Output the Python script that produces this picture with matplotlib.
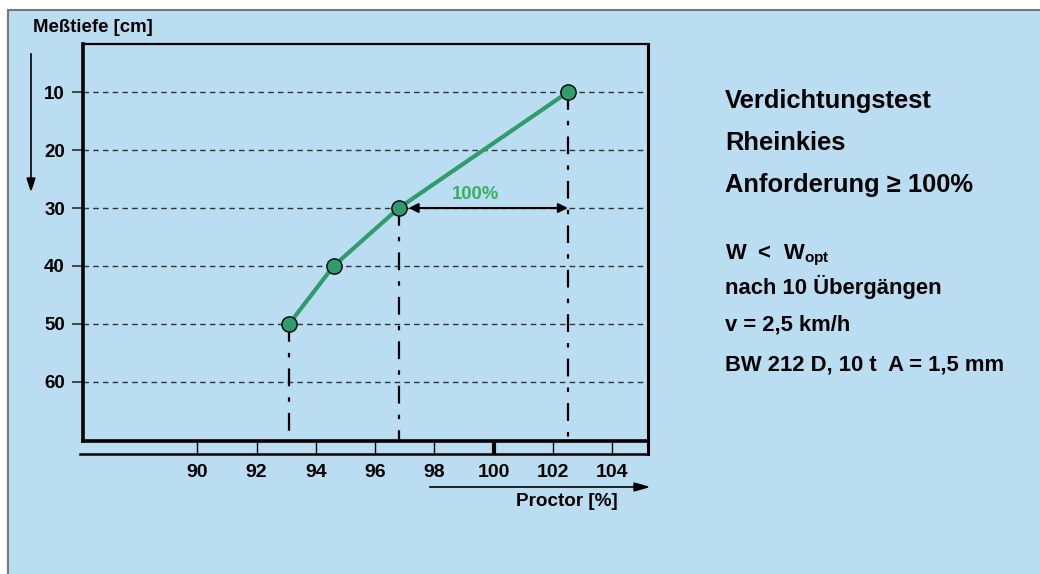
import matplotlib
matplotlib.use("Agg")
import matplotlib.pyplot as plt
from matplotlib.patches import Rectangle
from matplotlib.lines import Line2D

plt.rcParams['font.family'] = ['Liberation Sans', 'DejaVu Sans']
plt.rcParams['font.weight'] = 'bold'
plt.rcParams['mathtext.fontset'] = 'custom'
plt.rcParams['mathtext.rm'] = 'Liberation Sans:bold'
plt.rcParams['mathtext.bf'] = 'Liberation Sans:bold'

# data
proctor = [93.1, 94.6, 96.8, 102.5]     # Proctor [%]
depth = [50, 40, 30, 10]                # Meßtiefe [cm]
drop_idx = [0, 2, 3]                    # points with a dash-dot drop line
x_ticks = [90, 92, 94, 96, 98, 100, 102, 104]
y_ticks = [10, 20, 30, 40, 50, 60]
info_big = ["Verdichtungstest", "Rheinkies", "Anforderung \u2265 100%"]
info_small = ["nach 10 \u00dcberg\u00e4ngen", "v = 2,5 km/h", "BW 212 D, 10 t  A = 1,5 mm"]

bg = "#BADDF2"
green = "#2E9C6C"
W, H = 1040, 574

fig = plt.figure(figsize=(10.4, 5.74), dpi=100, facecolor="white")
fig.patches.append(Rectangle((8 / W, -0.01), 1.02, 1 - 10 / H + 0.01, transform=fig.transFigure,
                             facecolor=bg, edgecolor="#777777", linewidth=1.5, zorder=-5))

ax = fig.add_axes([83 / W, (H - 441) / H, (648 - 83) / W, (441 - 44) / H])
ax.set_zorder(2)
ax.set_facecolor(bg)
ax.set_xlim(86.15, 105.2)
ax.set_ylim(70.2, 1.7)

for s in ["left", "bottom"]:
    ax.spines[s].set_linewidth(2.6)
ax.spines["top"].set_linewidth(1.6)
ax.spines["right"].set_linewidth(2.2)

# horizontal dashed grid
for d in y_ticks:
    ax.axhline(d, color="#333333", linestyle=(0, (4, 3)), linewidth=1.0, zorder=1)

# dash-dot drop lines
for i in drop_idx:
    ax.plot([proctor[i], proctor[i]], [depth[i], 70.2], color="black",
            linestyle=(0, (8, 5, 2, 5)), linewidth=1.6, zorder=2)

ax.plot(proctor, depth, color=green, linewidth=3, zorder=3)
ax.plot(proctor, depth, "o", markersize=11, markerfacecolor=green,
        markeredgecolor="black", markeredgewidth=1.0, zorder=4)

# 100% arrow
ax.annotate("", xy=(proctor[3], depth[2]), xytext=(proctor[2], depth[2]),
            arrowprops=dict(arrowstyle="<|-|>", color="black", lw=1.5,
                            mutation_scale=14, shrinkA=7, shrinkB=0), zorder=5)
ax.text(99.4, depth[2] - 0.8, "100%", color="#3BAF5F", fontsize=13.3,
        fontweight="bold", ha="center", va="bottom")

ax.set_yticks(y_ticks)
ax.set_yticklabels([str(v) for v in y_ticks], fontsize=13.5, fontweight="bold")
ax.tick_params(axis="y", direction="out", length=8, width=1.4, color="#444444", pad=5)
ax.set_xticks(x_ticks)
ax.set_xticklabels([str(v) for v in x_ticks], fontsize=14, fontweight="bold")
ax.tick_params(axis="x", direction="out", length=9.4, width=1.0, color="black", pad=7)
for t, v in zip(ax.xaxis.get_major_ticks(), x_ticks):
    if v == 100:
        t.tick1line.set_markeredgewidth(3)

# second axis line below the frame, right frame runs down to it
fig.add_artist(Line2D([80 / W, 648 / W], [(H - 454) / H] * 2, color="black", linewidth=1.8))
fig.add_artist(Line2D([647.5 / W, 647.5 / W], [(H - 441) / H, (H - 454) / H], color="black", linewidth=2.2))

# axis arrows and titles
fig.add_artist(Line2D([31 / W, 31 / W], [(H - 54) / H, (H - 180) / H], color="black", linewidth=1.2))
fig.patches.append(plt.Polygon([[27 / W, (H - 178) / H], [35 / W, (H - 178) / H], [31 / W, (H - 190) / H]],
                               closed=True, transform=fig.transFigure, color="black"))
fig.text(33 / W, (H - 27) / H, "Me\u00dftiefe [cm]", fontsize=13.4, fontweight="bold", va="center")

fig.add_artist(Line2D([430 / W, 636 / W], [(H - 487) / H] * 2, color="black", linewidth=1.2))
fig.patches.append(plt.Polygon([[634 / W, (H - 483) / H], [634 / W, (H - 491) / H], [648 / W, (H - 487) / H]],
                               closed=True, transform=fig.transFigure, color="black"))
fig.text(618 / W, (H - 502) / H, "Proctor [%]", fontsize=13.6, fontweight="bold", va="center", ha="right")

# info text on the right
for k, s in enumerate(info_big):
    fig.text(725 / W, (H - 101 - 42 * k) / H, s, fontsize=18.4, fontweight="bold", va="center")
fig.text(725 / W, (H - 255) / H, r"W  <  W$_{\mathrm{opt}}$", fontsize=15.8, fontweight="bold", va="center")
for s, yy in zip(info_small, [287, 325, 365]):
    fig.text(725 / W, (H - yy) / H, s, fontsize=15.8, fontweight="bold", va="center")

fig.savefig("out.png", dpi=100, facecolor="white")
